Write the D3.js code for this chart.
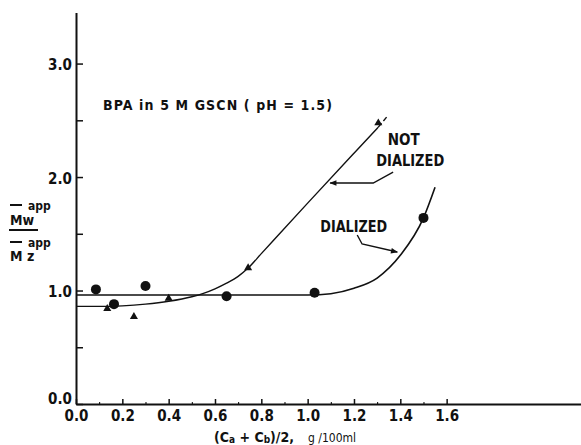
<!DOCTYPE html>
<html>
<head>
<meta charset="utf-8">
<script src="https://cdn.jsdelivr.net/npm/d3@7"></script>
<style>
  body { margin: 0; background: #fff; }
  svg { display: block; }
  .lbl { font-family: "Liberation Sans Narrow", "DejaVu Sans Condensed", "DejaVu Sans", sans-serif; font-stretch: condensed; font-weight: bold; fill: #111; }
</style>
</head>
<body>
<div id="chart"></div>
<script>
// points
const dialX = [0.086, 0.164, 0.30, 0.65, 1.03, 1.50];
const dialY = [1.01, 0.88, 1.04, 0.95, 0.98, 1.64];
const notX = [0.135, 0.25, 0.40, 0.743, 1.305];
const notY = [0.84, 0.77, 0.93, 1.20, 2.476];

// drawn curves
const dialCurveX = [0.0, 0.5, 1.0, 1.1, 1.2, 1.3, 1.4, 1.5, 1.55];
const dialCurveY = [0.96, 0.96, 0.96, 0.972, 1.02, 1.11, 1.31, 1.64, 1.91];
const notCurveX = [0.0, 0.1, 0.2, 0.3, 0.4, 0.5, 0.55, 0.6, 0.65, 0.7, 0.743, 0.8, 1.0, 1.2, 1.305];
const notCurveY = [0.86, 0.86, 0.865, 0.88, 0.905, 0.945, 0.975, 1.015, 1.065, 1.125, 1.198, 1.325, 1.77, 2.21, 2.44];
const notDashX = [1.305, 1.348];
const notDashY = [2.44, 2.546];

const xTicks = [0, 0.2, 0.4, 0.6, 0.8, 1.0, 1.2, 1.4, 1.6];
const xMinor = [0.1, 0.3, 0.5, 0.7, 0.9, 1.1, 1.3, 1.5];
const yTicks = [0, 0.5, 1.0, 1.5, 2.0, 2.5, 3.0];

const width = 581, height = 445;

const svg = d3.select("#chart").append("svg")
    .attr("width", width)
    .attr("height", height);

const x = d3.scaleLinear().domain([0, 2.18]).range([76, 581]);
const y = d3.scaleLinear().domain([0, 3.45]).range([404, 12.5]);

// axes
const yAxis = d3.axisLeft(y)
    .tickValues(yTicks)
    .tickSizeInner(-7)
    .tickSizeOuter(0)
    .tickPadding(4)
    .tickFormat(d => d % 1 === 0 ? d.toFixed(1) : "");

const gy = svg.append("g")
    .attr("transform", `translate(${x(0)},0)`)
    .call(yAxis);

const xAxis = d3.axisBottom(x)
    .tickValues(xTicks)
    .tickSizeInner(-5)
    .tickSizeOuter(0)
    .tickPadding(6)
    .tickFormat(d3.format(".1f"));

const gx = svg.append("g")
    .attr("transform", `translate(0,${y(0)})`)
    .call(xAxis);

svg.append("g")
    .attr("transform", `translate(0,${y(0)})`)
    .call(d3.axisBottom(x).tickValues(xMinor).tickSizeInner(-2).tickSizeOuter(0).tickFormat(""))
    .select(".domain").remove();

[gx, gy].forEach(g => {
    g.select(".domain").attr("stroke", "#111").attr("stroke-width", 2);
    g.selectAll(".tick line").attr("stroke", "#111").attr("stroke-width", 1.5);
    g.selectAll("text")
        .attr("class", "lbl")
        .style("font-size", "15px");
});
// the 0.0 on the y axis sits a little above its tick
gy.selectAll(".tick text").filter(d => d === 0).attr("dy", "-0.05em");
gy.selectAll(".tick text").filter(d => d > 0).attr("dy", "0.4em");

// curves
const line = d3.line().x(d => x(d[0])).y(d => y(d[1])).curve(d3.curveMonotoneX);

svg.append("path")
    .datum(d3.zip(dialCurveX, dialCurveY))
    .attr("d", line)
    .attr("fill", "none").attr("stroke", "#111").attr("stroke-width", 1.6);

svg.append("path")
    .datum(d3.zip(notCurveX, notCurveY))
    .attr("d", line)
    .attr("fill", "none").attr("stroke", "#111").attr("stroke-width", 1.4);

svg.append("path")
    .datum(d3.zip(notDashX, notDashY))
    .attr("d", d3.line().x(d => x(d[0])).y(d => y(d[1])))
    .attr("fill", "none").attr("stroke", "#111").attr("stroke-width", 1.4)
    .attr("stroke-dasharray", "5,3");

// markers
svg.selectAll(".dial")
    .data(d3.zip(dialX, dialY))
    .enter()
    .append("circle")
    .attr("class", "dial")
    .attr("cx", d => x(d[0]))
    .attr("cy", d => y(d[1]))
    .attr("r", 5)
    .attr("fill", "#111");

svg.selectAll(".notdial")
    .data(d3.zip(notX, notY))
    .enter()
    .append("path")
    .attr("class", "notdial")
    .attr("transform", d => `translate(${x(d[0])},${y(d[1])})`)
    .attr("d", d3.symbol().type(d3.symbolTriangle).size(28))
    .attr("fill", "#111");

// title and annotations
svg.append("text")
    .attr("class", "lbl")
    .attr("x", 103).attr("y", 110)
    .attr("textLength", 229).attr("lengthAdjust", "spacing")
    .style("font-size", "14px")
    .text("BPA  in  5 M GSCN  ( pH = 1.5)");

svg.append("text").attr("class", "lbl")
    .attr("x", x(1.415)).attr("y", y(2.28))
    .attr("text-anchor", "middle")
    .style("font-size", "15px")
    .text("NOT");

svg.append("text").attr("class", "lbl")
    .attr("x", x(1.443)).attr("y", y(2.097))
    .attr("text-anchor", "middle")
    .attr("textLength", 68).attr("lengthAdjust", "spacingAndGlyphs")
    .style("font-size", "15px")
    .text("DIALIZED");

svg.append("text").attr("class", "lbl")
    .attr("x", x(1.199)).attr("y", y(1.515))
    .attr("text-anchor", "middle")
    .attr("textLength", 67).attr("lengthAdjust", "spacingAndGlyphs")
    .style("font-size", "15px")
    .text("DIALIZED");

const defs = svg.append("defs");
defs.append("marker")
    .attr("id", "head")
    .attr("viewBox", "0 0 10 10")
    .attr("refX", 9).attr("refY", 5)
    .attr("markerWidth", 9).attr("markerHeight", 7)
    .attr("markerUnits", "userSpaceOnUse")
    .attr("orient", "auto")
    .append("path")
    .attr("d", "M0,1 L10,5 L0,9 Z")
    .attr("fill", "#111");

const arrowNot = [[1.369, 2.044], [1.283, 1.947], [1.097, 1.947]];
const arrowDial = [[1.214, 1.489], [1.235, 1.41], [1.387, 1.339]];
const straight = d3.line().x(d => x(d[0])).y(d => y(d[1]));

[arrowNot, arrowDial].forEach(a => {
    svg.append("path")
        .attr("d", straight(a))
        .attr("fill", "none").attr("stroke", "#111").attr("stroke-width", 1.4)
        .attr("marker-end", "url(#head)");
});

// axis titles
const xl = svg.append("text").attr("class", "lbl")
    .attr("x", 214).attr("y", 442)
    .style("font-size", "14px");
xl.append("tspan").text("(C");
xl.append("tspan").text("a").style("font-size", "10px").attr("dy", 1);
xl.append("tspan").text(" + C").attr("dy", -1);
xl.append("tspan").text("b").style("font-size", "10px").attr("dy", 1);
xl.append("tspan").text(")/2,").attr("dy", -1);
xl.append("tspan").text("g /100ml").style("font-size", "12px").style("font-weight", "normal").attr("dx", 14);

const yl = svg.append("g");
yl.append("text").attr("class", "lbl").attr("x", 10).attr("y", 225)
    .style("font-size", "14px").text("Mw");
yl.append("text").attr("class", "lbl").attr("x", 28).attr("y", 210)
    .style("font-size", "12px").text("app");
yl.append("text").attr("class", "lbl").attr("x", 10).attr("y", 261)
    .style("font-size", "14px").text("M z");
yl.append("text").attr("class", "lbl").attr("x", 28).attr("y", 247)
    .style("font-size", "12px").text("app");
[[10, 22, 205], [9, 38, 230], [10, 22, 242]].forEach(b => {
    yl.append("line")
        .attr("x1", b[0]).attr("x2", b[1]).attr("y1", b[2]).attr("y2", b[2])
        .attr("stroke", "#111").attr("stroke-width", 2);
});
</script>
</body>
</html>
